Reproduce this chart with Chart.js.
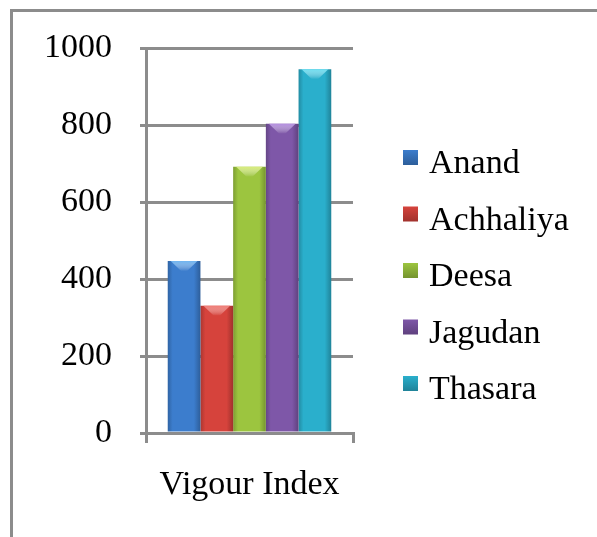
<!DOCTYPE html>
<html>
<head>
<meta charset="utf-8">
<script src="https://cdn.jsdelivr.net/npm/chart.js@4.4.0/dist/chart.umd.min.js"></script>
<style>
  html, body { margin: 0; padding: 0; background: #ffffff; }
  #wrap { width: 597px; height: 537px; position: relative; }
</style>
</head>
<body>
<div id="wrap"><canvas id="c" width="597" height="537"></canvas></div>
<script>
// ---- data ----
const categories = ["Vigour Index"];
const seriesNames = ["Anand", "Achhaliya", "Deesa", "Jagudan", "Thasara"];
const seriesValues = [447, 331, 692, 804, 946];
const seriesColors = ["#3c7dcd", "#d6433c", "#9cc53f", "#7e57a8", "#2aafcc"];
const seriesLight = ["#6fb4f0", "#f07a74", "#d8ec7a", "#b48ee0", "#6fe0f2"];
const yTicks = [0, 200, 400, 600, 800, 1000];

const FONT = "'Liberation Serif', 'Times New Roman', serif";
const GRAY = "#8c8c8c";

function shade(hex, f) {
  const n = parseInt(hex.slice(1), 16);
  const r = Math.round(((n >> 16) & 255) * f), g = Math.round(((n >> 8) & 255) * f), b = Math.round((n & 255) * f);
  return `rgb(${r},${g},${b})`;
}

const datasets = seriesNames.map((name, i) => ({
  label: name,
  data: [seriesValues[i]],
  backgroundColor: seriesColors[i],
  borderWidth: 0
}));

const framePlugin = {
  id: 'frame',
  beforeDraw(chart) {
    const ctx = chart.ctx;
    ctx.save();
    ctx.fillStyle = '#ffffff';
    ctx.fillRect(0, 0, chart.width, chart.height);
    ctx.strokeStyle = GRAY;
    ctx.lineWidth = 3;
    ctx.strokeRect(11.5, 10.5, 1000, 1000);
    ctx.restore();
  }
};

// horizontal cylinder-like shading + top highlight, using element geometry from the library
const shadePlugin = {
  id: 'shade',
  beforeDatasetsDraw(chart) {
    const ctx = chart.ctx;
    chart.data.datasets.forEach((ds, i) => {
      const meta = chart.getDatasetMeta(i);
      meta.data.forEach(el => {
        const x0 = el.x - el.width / 2, x1 = el.x + el.width / 2;
        const g = ctx.createLinearGradient(x0, 0, x1, 0);
        const c = seriesColors[i];
        g.addColorStop(0, shade(c, 0.8));
        g.addColorStop(0.15, c);
        g.addColorStop(0.8, c);
        g.addColorStop(1, shade(c, 0.75));
        el.options.backgroundColor = g;
      });
    });
  },
  afterDatasetsDraw(chart) {
    const ctx = chart.ctx;
    ctx.save();
    chart.data.datasets.forEach((ds, i) => {
      const meta = chart.getDatasetMeta(i);
      meta.data.forEach(el => {
        const x0 = el.x - el.width / 2, x1 = el.x + el.width / 2, top = el.y;
        const g = ctx.createLinearGradient(0, top, 0, top + 10);
        g.addColorStop(0, seriesLight[i]);
        g.addColorStop(1, 'rgba(255,255,255,0)');
        ctx.fillStyle = g;
        ctx.beginPath();
        ctx.moveTo(x0 + 3, top);
        ctx.lineTo(x1 - 3, top);
        ctx.lineTo(el.x + 3, top + 10);
        ctx.lineTo(el.x - 3, top + 10);
        ctx.closePath();
        ctx.fill();
      });
    });
    ctx.restore();
  }
};

const legendPlugin = {
  id: 'customLegend',
  afterDraw(chart) {
    const ctx = chart.ctx;
    ctx.save();
    ctx.font = "34px " + FONT;
    ctx.textBaseline = 'alphabetic';
    ctx.textAlign = 'left';
    chart.data.datasets.forEach((ds, i) => {
      const baseline = 173 + i * 56.5;
      const c = seriesColors[i];
      const g = ctx.createLinearGradient(0, baseline - 23, 0, baseline - 8);
      g.addColorStop(0, shade(c, 1.0));
      g.addColorStop(1, shade(c, 0.75));
      ctx.fillStyle = g;
      ctx.fillRect(403, baseline - 23, 15, 15);
      ctx.fillStyle = '#000000';
      ctx.fillText(ds.label, 429, baseline);
    });
    ctx.restore();
  }
};

new Chart(document.getElementById('c'), {
  type: 'bar',
  data: { labels: categories, datasets },
  plugins: [framePlugin, shadePlugin, legendPlugin],
  options: {
    responsive: false,
    animation: false,
    devicePixelRatio: 1,
    layout: { padding: { left: 0, top: 46, right: 244, bottom: 0 } },
    plugins: { legend: { display: false }, tooltip: { enabled: false } },
    datasets: { bar: { categoryPercentage: 0.79, barPercentage: 1.0 } },
    scales: {
      x: {
        offset: true,
        grid: { display: true, drawOnChartArea: false, drawTicks: true, tickLength: 10, color: GRAY, lineWidth: 3, offset: true },
        border: { display: true, color: GRAY, width: 3 },
        ticks: { font: { family: FONT, size: 34 }, color: '#000000', padding: 22 },
        afterFit(scale) { scale.height = 104; }
      },
      y: {
        min: 0, max: 1000,
        afterBuildTicks(scale) { scale.ticks = yTicks.map(v => ({ value: v })); },
        grid: { color: GRAY, lineWidth: 3, tickLength: 6, drawTicks: true },
        border: { display: true, color: GRAY, width: 3 },
        ticks: { font: { family: FONT, size: 34 }, color: '#000000', padding: 28, callback: v => String(v) },
        afterFit(scale) { scale.width = 146; }
      }
    }
  }
});
</script>
</body>
</html>
